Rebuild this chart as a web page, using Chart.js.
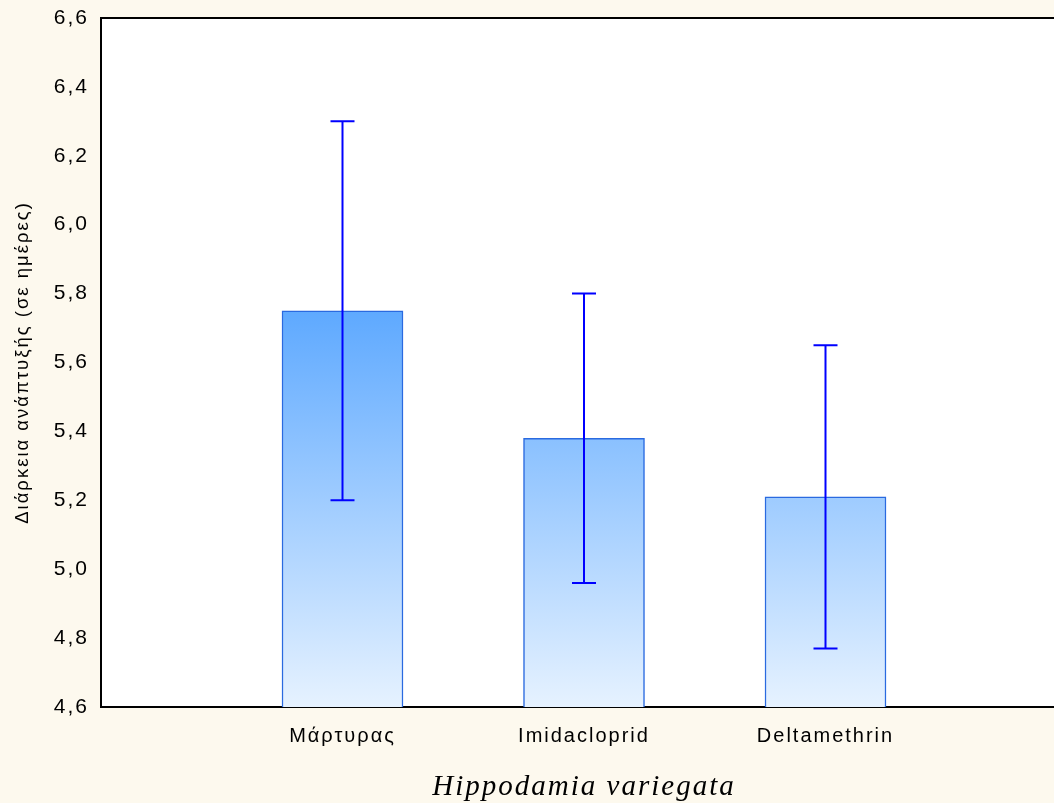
<!DOCTYPE html>
<html>
<head>
<meta charset="utf-8">
<script src="https://cdn.jsdelivr.net/npm/chart.js@4"></script>
<style>
  html, body { margin: 0; padding: 0; overflow: hidden; background: #fdf9ee; }
  #wrap { width: 1054px; height: 803px; overflow: hidden; }
  canvas { display: block; }
</style>
</head>
<body>
<div id="wrap">
<canvas id="chart" width="1068" height="803" style="width:1068px;height:803px"></canvas>
</div>
<script>
// values
let categories = ['Μάρτυρας', 'Imidacloprid', 'Deltamethrin'];
let means = [5.75, 5.38, 5.21];
let errHigh = [6.30, 5.80, 5.65];
let errLow = [5.20, 4.96, 4.77];
let yMin = 4.6, yMax = 6.6, yStep = 0.2;

// empty slots on each side so bars sit at 1/4, 2/4, 3/4 of the axis
let labels = [''].concat(categories, ['']);
let barData = [null].concat(means, [null]);

let framePlugin = {
    id: 'frame',
    beforeLayout(chart) {
        chart.ctx.letterSpacing = '2px';
    },
    beforeDraw(chart) {
        let ctx = chart.ctx;
        let a = chart.chartArea;
        ctx.letterSpacing = '2px';
        ctx.save();
        ctx.fillStyle = '#fdf9ee';
        ctx.fillRect(0, 0, chart.width, chart.height);
        ctx.fillStyle = '#ffffff';
        ctx.fillRect(a.left, a.top, a.right - a.left, a.bottom - a.top);
        ctx.restore();
    },
    afterDraw(chart) {
        let ctx = chart.ctx;
        let a = chart.chartArea;
        ctx.save();
        ctx.strokeStyle = '#000';
        ctx.lineWidth = 2;
        ctx.beginPath();
        ctx.moveTo(a.left - 1, a.top);
        ctx.lineTo(a.right, a.top);
        ctx.stroke();
        ctx.restore();
    }
};

let errorBarPlugin = {
    id: 'errorBars',
    afterDatasetsDraw(chart) {
        let ctx = chart.ctx;
        let y = chart.scales.y;
        let meta = chart.getDatasetMeta(0);
        ctx.save();
        ctx.strokeStyle = '#0000ff';
        ctx.lineWidth = 2;
        for (let i = 0; i < categories.length; i++) {
            let bar = meta.data[i + 1];
            let top = y.getPixelForValue(errHigh[i]);
            let bottom = y.getPixelForValue(errLow[i]);
            ctx.beginPath();
            ctx.moveTo(bar.x, top);
            ctx.lineTo(bar.x, bottom);
            ctx.moveTo(bar.x - 12, top);
            ctx.lineTo(bar.x + 12, top);
            ctx.moveTo(bar.x - 12, bottom);
            ctx.lineTo(bar.x + 12, bottom);
            ctx.stroke();
        }
        ctx.restore();
    }
};

function barGradient(context) {
    let chart = context.chart;
    let area = chart.chartArea;
    if (!area) return '#8cc4ff';
    let top = chart.scales.y.getPixelForValue(Math.max(...means));
    let g = chart.ctx.createLinearGradient(0, top, 0, area.bottom);
    g.addColorStop(0, '#5ea9ff');
    g.addColorStop(1, '#e6f2ff');
    return g;
}

let ctx = document.getElementById('chart');
let myChart = new Chart(ctx, {
    type: 'bar',
    data: {
        labels: labels,
        datasets: [{
            data: barData,
            backgroundColor: barGradient,
            borderColor: '#2a6ae0',
            borderWidth: 1.5,
            barThickness: 121
        }]
    },
    options: {
        responsive: false,
        animation: false,
        layout: { padding: { top: 18, left: 0, right: 1, bottom: 0 } },
        plugins: {
            legend: { display: false },
            tooltip: { enabled: false }
        },
        scales: {
            x: {
                offset: false,
                grid: { display: false, drawTicks: false },
                border: { display: true, color: '#000', width: 2 },
                ticks: {
                    color: '#000',
                    padding: 17,
                    autoSkip: false,
                    maxRotation: 0,
                    font: { family: '"Liberation Sans", Arial, sans-serif', size: 20 }
                },
                title: {
                    display: true,
                    text: 'Hippodamia variegata',
                    color: '#000',
                    padding: { top: 0, bottom: 1 },
                    font: { family: '"Liberation Serif", "Times New Roman", serif', size: 29, style: 'italic', lineHeight: 1 }
                },
                afterFit(scale) {
                    scale.height = 96;
                    scale.paddingLeft = 0;
                    scale.paddingRight = 0;
                }
            },
            y: {
                min: yMin,
                max: yMax,
                grid: { display: false, drawTicks: false },
                border: { display: true, color: '#000', width: 2 },
                ticks: {
                    stepSize: yStep,
                    color: '#000',
                    padding: 12,
                    font: { family: '"Liberation Sans", Arial, sans-serif', size: 21 },
                    callback: v => v.toFixed(1).replace('.', ',')
                },
                title: {
                    display: true,
                    text: 'Διάρκεια ανάπτυξής (σε ημέρες)',
                    color: '#000',
                    padding: { top: 12, bottom: 0 },
                    font: { family: '"Liberation Sans", Arial, sans-serif', size: 18.5 }
                },
                afterFit(scale) {
                    scale.width = 101;
                    scale.paddingTop = 0;
                    scale.paddingBottom = 0;
                }
            }
        }
    },
    plugins: [framePlugin, errorBarPlugin]
});
</script>
</body>
</html>
